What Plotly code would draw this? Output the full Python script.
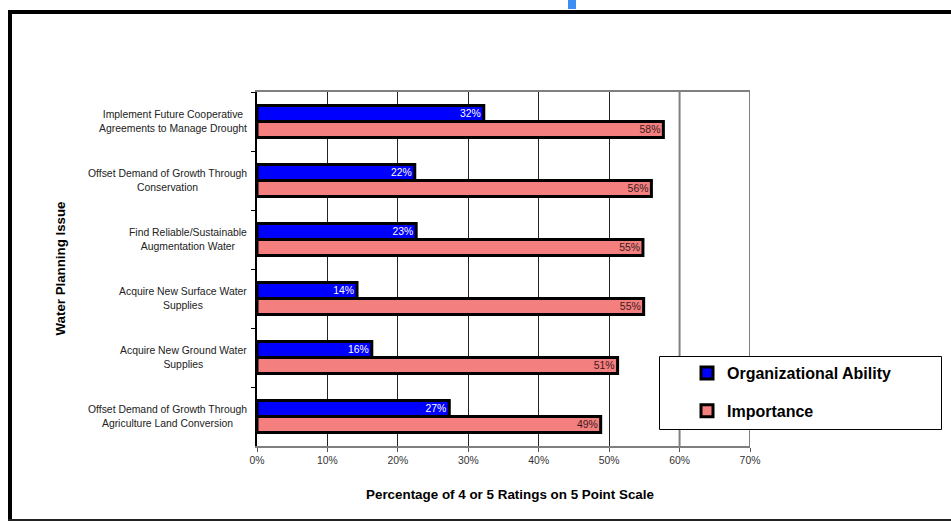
import plotly.graph_objects as go

# Survey results: share of 4 or 5 ratings per water planning issue (top to bottom)
issues = [
    "Implement Future Cooperative<br>Agreements to Manage Drought",
    "Offset Demand of Growth Through<br>Conservation",
    "Find Reliable/Sustainable<br>Augmentation Water",
    "Acquire New Surface Water<br>Supplies",
    "Acquire New Ground Water<br>Supplies",
    "Offset Demand of Growth Through<br>Agriculture Land Conversion",
]
org_ability = [0.322, 0.224, 0.226, 0.142, 0.163, 0.273]
importance = [0.577, 0.560, 0.548, 0.549, 0.512, 0.488]
x_ticks = [0.0, 0.1, 0.2, 0.3, 0.4, 0.5, 0.6, 0.7]

FONT = "Arial, Liberation Sans, sans-serif"
W, H = 951, 521
L, R, T, B = 257, 750, 92, 446  # plot area in pixels


def px_x(px):
    return (px - L) / (R - L)


def px_y(py):
    return (B - py) / (B - T)


fig = go.Figure()
fig.add_trace(go.Bar(
    y=issues, x=org_ability, orientation="h", name="Organizational Ability",
    legendgroup="org",
    marker=dict(color="#0000FF", line=dict(color="black", width=3)),
    texttemplate="%{x:.0%}", textposition="inside", insidetextanchor="end",
    textfont=dict(color="white", size=10.4, family=FONT),
    constraintext="none", hoverinfo="skip",
))
fig.add_trace(go.Bar(
    y=issues, x=importance, orientation="h", name="Importance",
    legendgroup="imp",
    marker=dict(color="#F47F7F", line=dict(color="black", width=3)),
    texttemplate="%{x:.0%}", textposition="inside", insidetextanchor="end",
    textfont=dict(color="#3a1a1a", size=10.4, family=FONT),
    constraintext="none", hoverinfo="skip",
))

shapes = [
    # 60% and 70% lines drawn heavier in gray
    dict(type="line", xref="x", yref="paper", x0=0.6, x1=0.6, y0=0, y1=1,
         line=dict(color="#808080", width=2)),
    dict(type="line", xref="x", yref="paper", x0=0.7, x1=0.7, y0=0, y1=1,
         line=dict(color="#808080", width=2)),
    # legend frame
    dict(type="rect", xref="paper", yref="paper",
         x0=px_x(659.5), x1=px_x(941.5), y0=px_y(429.5), y1=px_y(356.5),
         line=dict(color="black", width=1), fillcolor="white", layer="above"),
    # outer chart frame
    dict(type="line", xref="paper", yref="paper",
         x0=px_x(10), x1=px_x(10), y0=px_y(10), y1=px_y(521),
         line=dict(color="black", width=4)),
    dict(type="line", xref="paper", yref="paper",
         x0=px_x(8), x1=px_x(960), y0=px_y(12), y1=px_y(12),
         line=dict(color="black", width=4)),
    dict(type="line", xref="paper", yref="paper",
         x0=px_x(8), x1=px_x(960), y0=px_y(520), y1=px_y(520),
         line=dict(color="#222222", width=2)),
    # small blue tab at the top edge
    dict(type="rect", xref="paper", yref="paper",
         x0=px_x(568), x1=px_x(576), y0=px_y(9), y1=px_y(-2),
         line=dict(width=0), fillcolor="#3d8ef0"),
]

annotations = [
    dict(text=name, x=0, xref="paper", xshift=-8, xanchor="right",
         y=name, yref="y", yanchor="middle", align="center", showarrow=False,
         font=dict(family=FONT, size=10.4, color="#222222"))
    for name in issues
]
annotations += [
    dict(text="Percentage of 4 or 5 Ratings on 5 Point Scale",
         x=px_x(510), xref="paper", xanchor="center",
         y=px_y(494), yref="paper", yanchor="middle", showarrow=False,
         font=dict(family=FONT, size=13.4, color="black", weight="bold")),
    dict(text="Water Planning Issue", textangle=-90,
         x=px_x(60), xref="paper", xanchor="center",
         y=px_y(268.5), yref="paper", yanchor="middle", showarrow=False,
         font=dict(family=FONT, size=13.3, color="black", weight="bold")),
]

fig.update_layout(
    width=W, height=H,
    margin=dict(l=L, r=W - R, t=T, b=H - B, pad=0),
    paper_bgcolor="white", plot_bgcolor="white",
    barmode="group", bargap=0.458, bargroupgap=0,
    font=dict(family=FONT, color="#222222"),
    showlegend=True,
    legend=dict(
        x=px_x(687), xanchor="left", y=px_y(356), yanchor="top",
        bgcolor="rgba(0,0,0,0)", borderwidth=0,
        traceorder="grouped", tracegroupgap=14,
        font=dict(family=FONT, size=16, color="black", weight="bold"),
        itemclick=False, itemdoubleclick=False,
    ),
    xaxis=dict(
        range=[0, 0.7], tickvals=x_ticks, tickformat=".0%",
        showgrid=True, gridcolor="#222222", gridwidth=1, zeroline=False,
        showline=True, linecolor="#7f7f7f", linewidth=2, mirror=True,
        ticks="outside", ticklen=4, tickcolor="#555555",
        tickfont=dict(family=FONT, size=10.4, color="#333333"),
    ),
    yaxis=dict(
        type="category", autorange="reversed", showticklabels=False,
        ticks="outside", tickson="boundaries", ticklen=4, tickcolor="black",
        showline=True, linecolor="black", linewidth=2, showgrid=False,
        zeroline=False,
    ),
    shapes=shapes,
    annotations=annotations,
)

fig.write_html("out.html")
